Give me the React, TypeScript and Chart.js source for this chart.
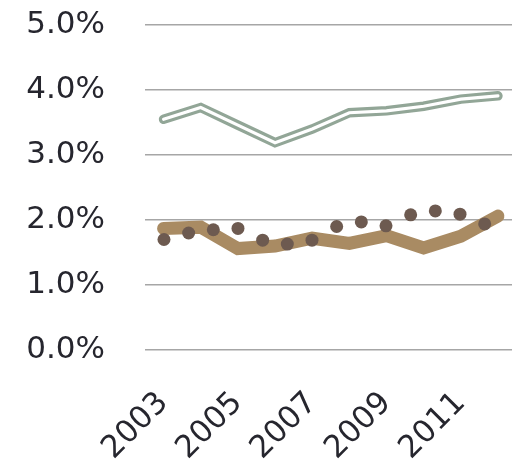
import React, { useEffect, useRef } from "react";
import { Chart, registerables } from "chart.js";

Chart.register(...registerables);

const years = ["2003", "2004", "2005", "2006", "2007", "2008", "2009", "2010", "2011", "2012"];
const grayLine = [3.55, 3.73, 3.46, 3.19, 3.4, 3.65, 3.68, 3.75, 3.86, 3.91];
const tanLine = [1.87, 1.89, 1.56, 1.6, 1.72, 1.64, 1.76, 1.57, 1.75, 2.06];
const dotValues = [1.7, 1.8, 1.85, 1.87, 1.69, 1.63, 1.69, 1.9, 1.97, 1.91, 2.08, 2.14, 2.09, 1.94];
const yTicks = [0, 1, 2, 3, 4, 5];

const FONT = "'DejaVu Sans', sans-serif";
const GREEN = "#92a697";
const TAN = "#a98b63";
const DOT = "#6d5a50";
const TEXT = "#26262e";

export default function App() {
  const ref = useRef<HTMLCanvasElement | null>(null);

  useEffect(() => {
    if (!ref.current) return;
    const chart = new Chart(ref.current, {
      type: "line",
      data: {
        labels: years,
        datasets: [
          {
            data: dotValues.map((v, i) => ({ x: i, y: v })),
            xAxisID: "x2",
            showLine: false,
            pointRadius: 6.5,
            pointBackgroundColor: DOT,
            pointBorderWidth: 0,
            order: 0,
          },
          {
            data: grayLine,
            borderColor: "#ffffff",
            borderWidth: 3.2,
            pointRadius: 0,
            borderCapStyle: "round",
            borderJoinStyle: "miter",
            order: 1,
          },
          {
            data: grayLine,
            borderColor: GREEN,
            borderWidth: 9.5,
            pointRadius: 0,
            borderCapStyle: "round",
            borderJoinStyle: "miter",
            order: 2,
          },
          {
            data: tanLine,
            borderColor: TAN,
            borderWidth: 13,
            pointRadius: 0,
            borderCapStyle: "round",
            borderJoinStyle: "miter",
            order: 3,
          },
        ] as any,
      },
      options: {
        animation: false,
        responsive: false,
        devicePixelRatio: 1,
        layout: { padding: { top: 25, left: 0, right: 0, bottom: 0 } },
        plugins: { legend: { display: false }, tooltip: { enabled: false } },
        scales: {
          x: {
            type: "category",
            offset: true,
            grid: { display: false },
            border: { display: false },
            ticks: {
              autoSkip: false,
              maxRotation: 45,
              minRotation: 45,
              padding: 27,
              color: TEXT,
              font: { family: FONT, size: 31 },
              callback: (_v: any, i: number) => (i % 2 === 0 ? years[i] : null),
            },
            afterFit: (s: any) => {
              s.height = 116;
              s.paddingLeft = 0;
              s.paddingRight = 0;
              s.paddingTop = 0;
              s.paddingBottom = 0;
            },
          },
          x2: {
            type: "linear",
            display: false,
            min: -0.769,
            max: 14.29,
          },
          y: {
            min: 0,
            max: 5,
            grid: { color: "#a6a6a6", lineWidth: 1.5, drawTicks: false },
            border: { display: false },
            afterBuildTicks: (s: any) => {
              s.ticks = yTicks.map((v) => ({ value: v }));
            },
            ticks: {
              padding: 40,
              color: TEXT,
              font: { family: FONT, size: 31 },
              callback: (v: any) => Number(v).toFixed(1) + "%",
            },
            afterFit: (s: any) => {
              s.width = 145;
              s.paddingTop = 0;
              s.paddingBottom = 0;
              s.paddingLeft = 0;
              s.paddingRight = 0;
            },
          },
        },
      } as any,
    });
    return () => chart.destroy();
  }, []);

  return (
    <div style={{ position: "fixed", left: 0, top: 0, width: 512, height: 466, overflow: "hidden", background: "#fff" }}>
      <canvas ref={ref} width={523} height={466} style={{ display: "block", width: 523, height: 466 }} />
    </div>
  );
}
